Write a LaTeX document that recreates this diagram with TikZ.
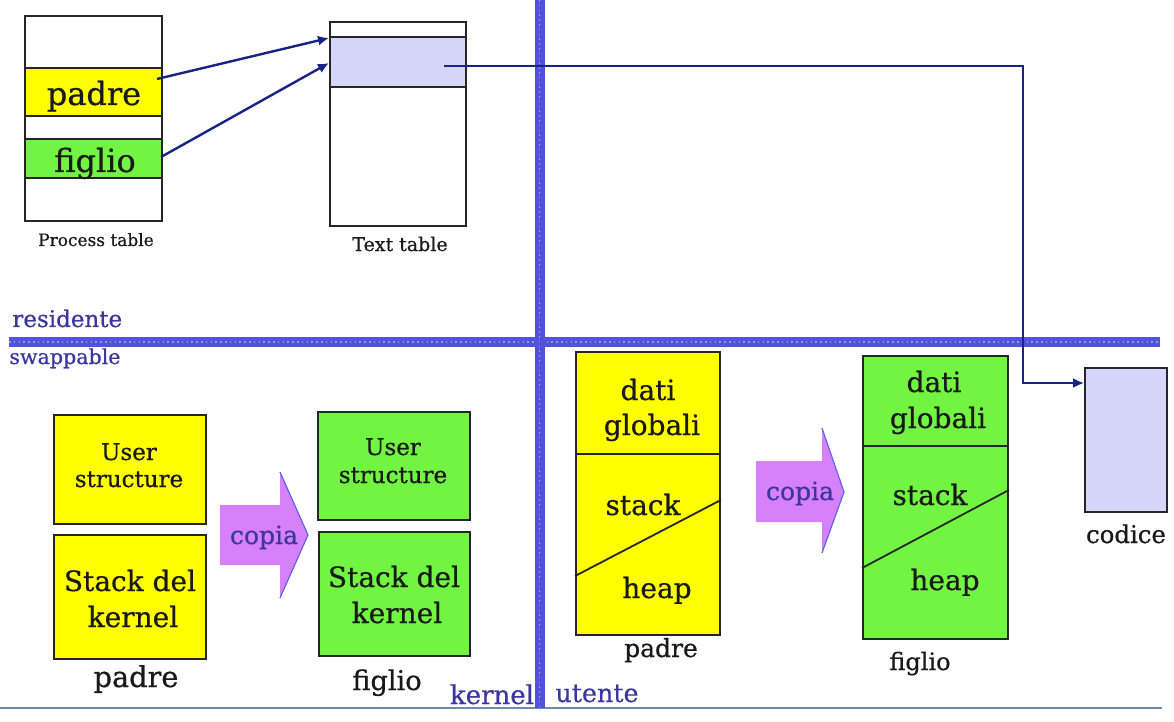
\documentclass[tikz,border=0pt]{standalone}
\usepackage{fontspec}
\setmainfont{DejaVu Serif}[FakeBold=0.6]
\usetikzlibrary{fit,arrows.meta}
\definecolor{ylw}{RGB}{255,255,0}
\definecolor{grn}{RGB}{114,245,66}
\definecolor{lav}{RGB}{214,214,250}
\definecolor{navy}{RGB}{25,35,135}
\definecolor{barc}{RGB}{82,82,222}
\definecolor{bardot}{RGB}{150,150,240}
\definecolor{cpy}{RGB}{214,128,250}
\definecolor{cpyedge}{RGB}{100,100,235}
\definecolor{lbl}{RGB}{60,55,160}
\definecolor{basec}{RGB}{110,140,175}
\newcommand\fsz[1]{\fontsize{#1}{#1}\selectfont}
\begin{document}
\begin{tikzpicture}[x=0.5pt,y=-0.5pt,
  box/.style={draw=black!85, line width=0.9pt, inner sep=0pt},
  txt/.style={font=\fsz{#1}, anchor=base, inner sep=0pt, text=black!90},
  bluetxt/.style={font=\fsz{#1}, anchor=base, inner sep=0pt, text=lbl},
  conn/.style={draw=navy, line width=1.2pt, -{Latex[length=5.5pt,width=5pt]}},
  bluebar/.style={draw=barc, line width=5pt},
  bardots/.style={draw=bardot, line width=0.9pt, dash pattern=on 0.8pt off 1.6pt},
  copyarrow/.style={fill=cpy},
  copyedge/.style={draw=cpyedge, line width=0.6pt},
  thin/.style={draw=black!85, line width=0.9pt}]
\useasboundingbox (0,0) rectangle (1174,722);
\fill[white] (0,0) rectangle (1174,722);

% ---------- top: process table ----------
\node[box, fit={(25,16) (162,221)}] (ptab) {};
\node[box, fill=ylw, fit={(25,68) (162,116)}] (prow) {};
\node[box, fill=grn, fit={(25,139) (162,178)}] (frow) {};
\node[txt=16] (ptxt) at (94,105) {padre};
\node[txt=16] (ftxt) at (95,172) {figlio};
\node[txt=8.5] (ptlbl) at (96,246) {Process table};

% ---------- top: text table ----------
\node[box, fit={(330,22) (466,226)}] (ttab) {};
\node[box, fill=lav, fit={(330,37) (466,87)}] (trow) {};
\node[txt=9.5] (ttlbl) at (400,251) {Text table};

% ---------- labels residente / swappable / kernel / utente ----------
\node[bluetxt=11.5, anchor=base west] (res) at (12,327) {residente};
\node[bluetxt=10.3, anchor=base west] (swp) at (9,364) {swappable};
\node[bluetxt=13] (ker) at (492,704) {kernel};
\node[bluetxt=12.7] (ute) at (597,702) {utente};

% ---------- separators ----------
\draw[draw=basec, line width=1.3pt] (0,708) -- (1162,708);
\draw[bluebar] (9,342) -- (1160,342);
\draw[bardots] (9,342) -- (1160,342);
\draw[bluebar] (539.5,0) -- (539.5,708);
\draw[bardots] (539.5,0) -- (539.5,708);

% ---------- connectors top ----------
\coordinate (a1s) at (157,79);
\coordinate (a1e) at (329,38);
\coordinate (a2s) at (161,157);
\coordinate (a2e) at (329,63);
\coordinate (cs) at (444,66);
\coordinate (cb1) at (1023,66);
\coordinate (cb2) at (1023,383);
\draw[conn] (a1s) -- (a1e);
\draw[conn] (a2s) -- (a2e);

% ---------- bottom left: kernel part ----------
\node[box, fill=ylw, fit={(54,415) (206,524)}] (pus) {};
\node[box, fill=ylw, fit={(54,535) (206,659)}] (pks) {};
\node[txt=11.5] (pus1) at (129,460) {User};
\node[txt=11.5] (pus2) at (129,487) {structure};
\node[txt=14] (pks1) at (130,591) {Stack del};
\node[txt=14] (pks2) at (133,627) {kernel};
\node[txt=14.4] (plab1) at (136,687) {padre};

\node[box, fill=grn, fit={(318,412) (470,520)}] (fus) {};
\node[box, fill=grn, fit={(319,532) (470,656)}] (fks) {};
\node[txt=11.5] (fus1) at (393,455) {User};
\node[txt=11.5] (fus2) at (393,483) {structure};
\node[txt=14] (fks1) at (394,587) {Stack del};
\node[txt=14] (fks2) at (397,623) {kernel};
\node[txt=13.6] (flab1) at (387,690) {figlio};

% copia arrow 1
\fill[copyarrow] (220,505) -- (280,505) -- (280,472) -- (308,535) -- (280,598) -- (280,565) -- (220,565) -- cycle;
\draw[copyedge] (280,472) -- (308,535) -- (280,598);
\node[bluetxt=12.5] (cp1) at (264,544) {copia};

% ---------- bottom right: user part ----------
\node[box, fill=ylw, fit={(576,352) (720,635)}] (pmem) {};
\draw[thin] (pmem.west |- 0,454) -- (pmem.east |- 0,454);
\draw[thin] (pmem.west |- 0,576) -- (pmem.east |- 0,500);
\node[txt=14] (pd1) at (648,400) {dati};
\node[txt=14] (pd2) at (652,435) {globali};
\node[txt=14] (pst) at (643,515) {stack};
\node[txt=14] (phe) at (657,598) {heap};
\node[txt=12.5] (plab2) at (661,657) {padre};

\fill[copyarrow] (756,461) -- (822,461) -- (822,428) -- (844,492) -- (822,553) -- (822,522) -- (756,522) -- cycle;
\draw[copyedge] (822,428) -- (844,492) -- (822,553);
\node[bluetxt=12.5] (cp2) at (800,500) {copia};

\node[box, fill=grn, fit={(863,356) (1008,639)}] (fmem) {};
\draw[thin] (fmem.west |- 0,446) -- (fmem.east |- 0,446);
\draw[thin] (fmem.west |- 0,568) -- (fmem.east |- 0,490);
\node[txt=14] (fd1) at (934,392) {dati};
\node[txt=14] (fd2) at (938,428) {globali};
\node[txt=14] (fst) at (930,505) {stack};
\node[txt=14] (fhe) at (945,590) {heap};
\node[txt=12] (flab2) at (920,670) {figlio};

\node[box, fill=lav, fit={(1085,368) (1167,512)}] (cod) {};
\node[txt=12.2] (codl) at (1126,543) {codice};

% connector text table -> codice
\draw[conn] (cs) -- (cb1) -- (cb2) -- (cod.west |- cb2);
\end{tikzpicture}
\end{document}
